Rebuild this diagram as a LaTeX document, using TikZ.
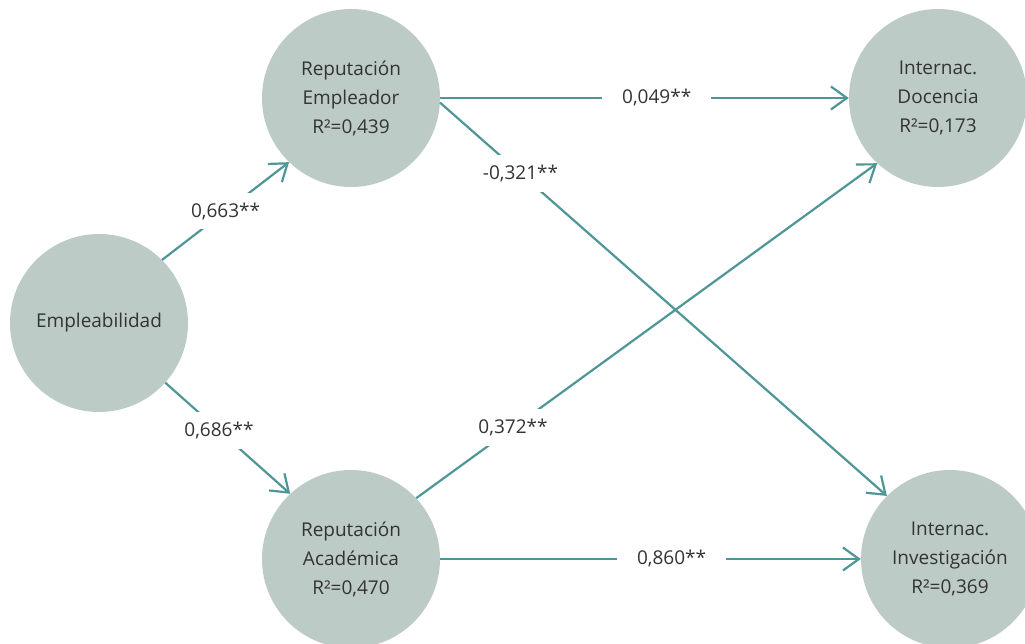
\documentclass[tikz,border=0pt]{standalone}
\usepackage{fontspec}
\setmainfont{Open Sans}
\usetikzlibrary{arrows.meta}
\definecolor{circ}{HTML}{BDCBC7}
\definecolor{arr}{HTML}{4F9797}
\definecolor{txt}{HTML}{333333}
\begin{document}
\begin{tikzpicture}[x=1pt,y=-1pt,
  var/.style={circle, fill=circ, minimum size=178pt, inner sep=0pt, align=center, text=txt, font=\fontsize{19}{29}\selectfont},
  conn/.style={draw=arr, line width=2.2pt, -{Straight Barb[length=16pt,width=23pt,line width=2.2pt]}},
  lbl/.style={fill=white, text=txt, font=\fontsize{19}{22}\selectfont, inner xsep=20pt, inner ysep=10pt}]
\clip (0,0) rectangle (1025,644);
\fill[white] (0,0) rectangle (1025,644);
\node[var] (E) at (99,323) {Empleabilidad};
\node[var] (RE) at (351,98) {Reputación\\Empleador\\R²=0,439};
\node[var] (RA) at (351,559) {Reputación\\Académica\\R²=0,470};
\node[var] (ID) at (938,98) {Internac.\\Docencia\\R²=0,173};
\node[var] (II) at (950,559) {Internac.\\Investigación\\R²=0,369};
\draw[conn] (E.45) -- node[lbl, pos=0.5] {0,663**} (RE.226);
\draw[conn] (E.-42) -- node[lbl, pos=0.43] {0,686**} (RA.133);
\draw[conn] (RE.0) -- node[lbl, pos=0.53] {0,049**} (ID.180);
\draw[conn] (RE.-3) -- node[lbl, pos=0.18] {-0,321**} (II.135);
\draw[conn] (RA.43) -- node[lbl, pos=0.21] {0,372**} (ID.227);
\draw[conn] (RA.0) -- node[lbl, pos=0.55] {0,860**} (II.180);
\end{tikzpicture}
\end{document}
